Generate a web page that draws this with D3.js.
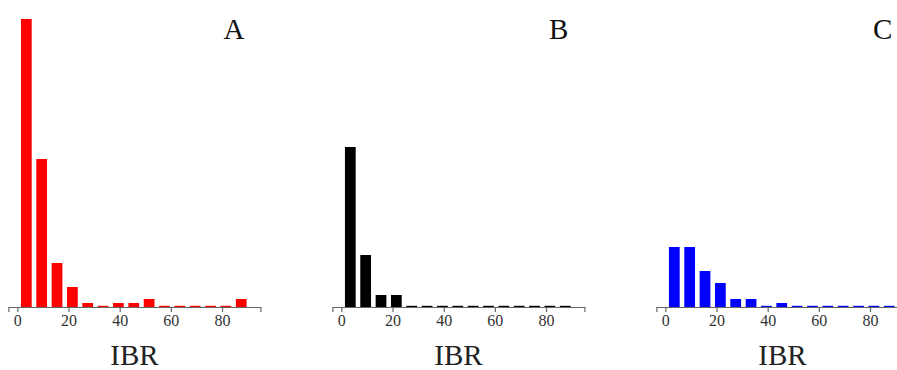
<!DOCTYPE html>
<html>
<head>
<meta charset="utf-8">
<script src="https://cdn.jsdelivr.net/npm/d3@7"></script>
<style>
  body { margin: 0; background: #fff; }
  svg { display: block; }
</style>
</head>
<body>
<div id="chart"></div>
<script>
// bin centres on the IBR axis
const binCenters = [3.5, 9.5, 15.5, 21.5, 27.5, 33.5, 39.5, 45.5, 51.5, 57.5, 63.5, 69.5, 75.5, 81.5, 87.5];
const countsA = [72, 37, 11, 5, 1, 0, 1, 1, 2, 0, 0, 0, 0, 0, 2];
const countsB = [40, 13, 3, 3, 0, 0, 0, 0, 0, 0, 0, 0, 0, 0, 0];
const countsC = [15, 15, 9, 6, 2, 2, 0, 1, 0, 0, 0, 0, 0, 0, 0];
const xTicks = [0, 20, 40, 60, 80];
const panelNames = ['A', 'B', 'C'];
const panelColors = ['#ff0000', '#000000', '#0000ff'];

const svgWidth = 897
const svgHeight = 370
const panelWidth = 252
const panelStep = 324
const baseY = 307
const serif = 'Liberation Serif, Times New Roman, serif'

function translate(x, y) {
    return 'translate(' + x + ',' + y + ')';
}

let svg = d3.select('#chart').append('svg')
    .attr('width', svgWidth)
    .attr('height', svgHeight)

let xScale = d3.scaleLinear()
    .domain([-3.5, 95])
    .range([0, panelWidth]);

let yScale = d3.scaleLinear()
    .domain([0, 72])
    .range([baseY, 19]);

const barW = xScale(4.2) - xScale(0);

[countsA, countsB, countsC].forEach((counts, p) => {
    let g = svg.append('g')
        .attr('class', 'panel')
        .attr('transform', translate(8.4 + p * panelStep, 0))

    g.selectAll('rect.bar').data(counts).enter()
        .append('rect')
        .attr('class', 'bar')
        .attr('x', (d, i) => xScale(binCenters[i]) - barW / 2)
        .attr('width', barW)
        .attr('y', d => Math.min(yScale(d), baseY - 1.2))
        .attr('height', d => Math.max(baseY - yScale(d), 1.2))
        .style('fill', panelColors[p])

    let axis = g.append('g')
        .attr('class', 'xAxis')
        .attr('transform', translate(0, baseY))
        .call(d3.axisBottom(xScale).tickValues(xTicks).tickSizeOuter(0).tickSize(5).tickPadding(3))
        .attr('font-family', serif)
        .attr('font-size', 16)
    axis.select('.domain').attr('stroke', '#666').attr('stroke-width', 1.2)
    axis.selectAll('.tick line').attr('stroke', '#666').attr('stroke-width', 1.2)
    axis.selectAll('.tick text').attr('fill', '#333')

    g.append('text')
        .attr('x', (xScale.range()[0] + xScale.range()[1]) / 2)
        .attr('y', 365)
        .attr('text-anchor', 'middle')
        .attr('font-family', serif)
        .attr('font-size', 29)
        .attr('fill', '#222')
        .text('IBR')

    g.append('text')
        .attr('x', panelWidth - 16)
        .attr('y', 39)
        .attr('text-anchor', 'end')
        .attr('font-family', serif)
        .attr('font-size', 29)
        .attr('fill', '#111')
        .text(panelNames[p])
})
</script>
</body>
</html>
